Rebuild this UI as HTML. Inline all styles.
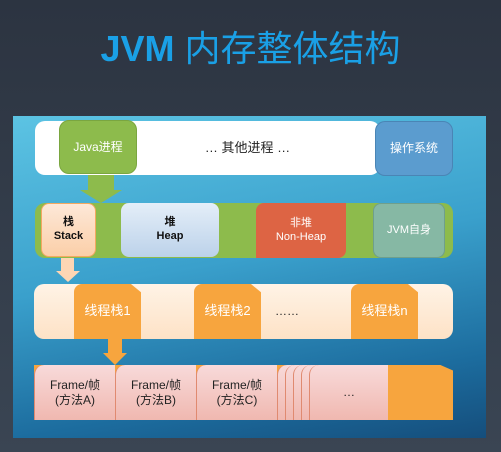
<!DOCTYPE html>
<html><head><meta charset="utf-8"><style>
body{margin:0;width:501px;height:452px;overflow:hidden;background:linear-gradient(#2c3441,#3a4553);font-family:"Liberation Sans","Noto Sans CJK SC",sans-serif;position:relative}
div{position:absolute;box-sizing:border-box}
.c{display:flex;align-items:center;justify-content:center;text-align:center;line-height:1.25}
.fr{background:linear-gradient(#f8dada,#f0b8b0);border-left:1px solid #e08a70;border-top-left-radius:10px;top:365px;height:55px;font-size:12px;color:#222}
.tab{background:#f7a53e;top:284px;height:55px;width:67px;color:#fff;font-size:13px;clip-path:polygon(0 0,85% 0,100% 15%,100% 100%,0 100%);border-top-left-radius:8px}
</style></head><body>
<div class="c" style="left:0;top:26px;width:501px;height:44px;color:#1aa0e6;font-size:36px">
<b style="font-family:'Liberation Sans',sans-serif">JVM</b>&nbsp;内存整体结构</div>
<div style="left:13px;top:116px;width:473px;height:322px;background:linear-gradient(170deg,#5cc3e3 0%,#3aa0cc 45%,#1c6c9e 80%,#154e7c 100%)"></div>
<!-- row1 -->
<div class="c" style="left:35px;top:121px;width:345px;height:54px;background:#fff;border-radius:10px;font-size:13px;color:#222;padding-left:80px">… 其他进程 …</div>
<div class="c" style="left:59px;top:120px;width:78px;height:54px;background:#8dbb4c;border-radius:10px;color:#fff;font-size:12px;border:1px solid #7aa640">Java进程</div>
<div class="c" style="left:375px;top:121px;width:78px;height:55px;background:#5b9ccf;border-radius:10px;color:#fff;font-size:12px;border:1px solid #4a85b5">操作系统</div>
<div style="left:88px;top:175px;width:26px;height:16px;background:#8dbb4c"></div>
<div style="left:80px;top:190px;width:0;height:0;border-left:21px solid transparent;border-right:21px solid transparent;border-top:13px solid #8dbb4c"></div>
<!-- row2 -->
<div style="left:35px;top:203px;width:418px;height:55px;background:#8dbb4c;border-radius:10px"></div>
<div class="c" style="left:41px;top:203px;width:55px;height:54px;background:linear-gradient(#fde8d8,#fbcfa8);border:1px solid #f4a860;border-radius:8px;font-size:11px;color:#111;font-weight:bold;flex-direction:column">栈<br>Stack</div>
<div class="c" style="left:121px;top:203px;width:98px;height:54px;background:linear-gradient(#e4eef8,#bcd2ea);border-radius:8px;font-size:11px;color:#111;font-weight:bold">堆<br>Heap</div>
<div class="c" style="left:256px;top:203px;width:90px;height:55px;background:#dd6444;border-radius:8px 0 8px 0;font-size:11px;color:#fff">非堆<br>Non-Heap</div>
<div class="c" style="left:373px;top:203px;width:72px;height:55px;background:#86b8a4;border:1px solid #6f9f8c;border-radius:8px;font-size:11px;color:#fff">JVM自身</div>
<div style="left:61px;top:258px;width:13px;height:14px;background:#fdd6b4"></div>
<div style="left:56px;top:271px;width:0;height:0;border-left:12px solid transparent;border-right:12px solid transparent;border-top:11px solid #fdd6b4"></div>
<!-- row3 -->
<div style="left:34px;top:284px;width:419px;height:55px;background:linear-gradient(#fff3e6,#fde2c6);border-radius:10px"></div>
<div class="c tab" style="left:74px">线程栈1</div>
<div class="c tab" style="left:194px">线程栈2</div>
<div class="c" style="left:262px;top:300px;width:50px;height:22px;color:#222;font-size:12px">……</div>
<div class="c tab" style="left:351px">线程栈n</div>
<div style="left:108px;top:339px;width:14px;height:15px;background:#f7a53e"></div>
<div style="left:103px;top:353px;width:0;height:0;border-left:12px solid transparent;border-right:12px solid transparent;border-top:12px solid #f7a53e"></div>
<!-- row4 -->
<div style="left:34px;top:365px;width:419px;height:55px;background:#f7a53e;clip-path:polygon(0 0,97% 0,100% 10%,100% 100%,0 100%)"></div>
<div class="c fr" style="left:34px;width:81px">Frame/帧<br>(方法A)</div>
<div class="c fr" style="left:115px;width:81px">Frame/帧<br>(方法B)</div>
<div class="c fr" style="left:196px;width:81px">Frame/帧<br>(方法C)</div>
<div class="fr" style="left:277px;width:90px"></div>
<div class="fr" style="left:285px;width:90px"></div>
<div class="fr" style="left:293px;width:90px"></div>
<div class="fr" style="left:301px;width:87px"></div>
<div class="c fr" style="left:309px;width:79px;clip-path:polygon(0 0,90% 0,100% 18%,100% 100%,0 100%)">…</div>
</body></html>
